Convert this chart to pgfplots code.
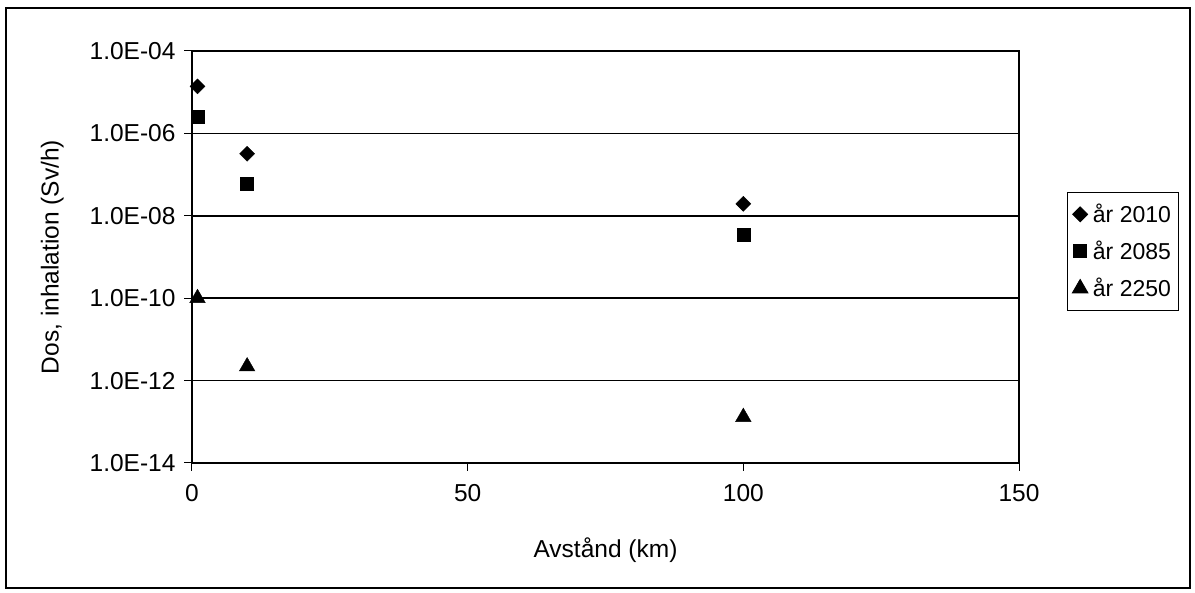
\documentclass[border=0pt]{standalone}
\usepackage{pgfplots}
\pgfplotsset{compat=1.18}
\usepackage{fontspec}
\setmainfont{Liberation Sans}
\begin{document}
\begin{tikzpicture}[x=1pt,y=1pt]
\path[use as bounding box] (0,0) rectangle (1195,593);
\draw[line width=1.2pt] (6,5) rectangle (1190,585);
\begin{axis}[
  at={(192pt,130pt)}, anchor=south west,
  scale only axis, width=827pt, height=412pt,
  font=\fontsize{24.5}{28}\selectfont,
  xmin=0, xmax=150, ymode=log, ymin=1e-14, ymax=1e-4,
  xtick={0,50,100,150},
  ytick={1e-14,1e-12,1e-10,1e-8,1e-6,1e-4},
  yticklabels={1.0E-14,1.0E-12,1.0E-10,1.0E-08,1.0E-06,1.0E-04},
  minor ytick={},
  ymajorgrids, major grid style={line width=1.5pt, black},
  axis line style={line width=1.5pt},
  tick align=outside, xtick pos=bottom, ytick pos=left,
  major tick length=8pt, tick style={line width=1pt, black},
  /pgf/number format/assume math mode=true,
  xticklabel style={yshift=-10pt},
  yticklabel style={xshift=-5pt},
  xlabel={Avstånd (km)},
  ylabel={Dos, inhalation (Sv/h)},
  xlabel style={at={(axis description cs:0.5,-0.211)}, anchor=center},
  ylabel style={at={(axis description cs:-0.169,0.5)}, anchor=center, rotate=0},
  legend style={at={(axis description cs:1.058,0.658)}, anchor=north west,
    draw=black, line width=0.8pt, font=\fontsize{23}{27}\selectfont,
    row sep=13pt, column sep=3pt, inner xsep=5pt, inner ysep=10pt, cells={anchor=west},
    legend image code/.code={\draw[#1] plot coordinates {(0.2cm,0cm)};}},
  clip=false,
]
\addplot[only marks, mark=square*, mark size=5.3pt, mark options={rotate=45, fill=black, draw=black}]
  coordinates {(1,1.38e-5) (10,3.2e-7) (100,1.95e-8)};
\addlegendentry{år 2010}
\addplot[only marks, mark=square*, mark size=6.5pt, mark options={fill=black, draw=black}]
  coordinates {(1,2.6e-6) (10,6.0e-8) (100,3.4e-9)};
\addlegendentry{år 2085}
\addplot[only marks, mark=triangle*, mark size=9pt, mark options={fill=black, draw=black}]
  coordinates {(1,1.0e-10) (10,2.2e-12) (100,1.3e-13)};
\addlegendentry{år 2250}
\end{axis}
\end{tikzpicture}
\end{document}
